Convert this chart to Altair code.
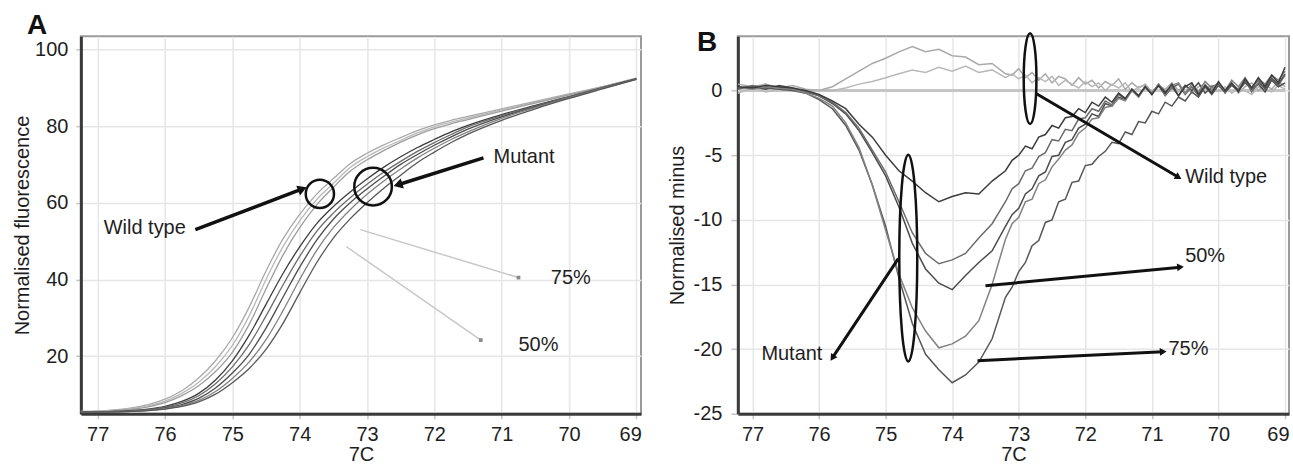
import math
import altair as alt
import pandas as pd

# ---------------- Panel A data (normalised fluorescence) ----------------
temps_a = [77.25, 77.0, 76.75, 76.5, 76.25, 76.0, 75.75, 75.5, 75.25, 75.0, 74.75, 74.5,
           74.25, 74.0, 73.75, 73.5, 73.25, 73.0, 72.75, 72.5, 72.25, 72.0, 71.75, 71.5,
           71.0, 70.5, 70.0, 69.5, 69.0]
wt_a1 = [5.6, 5.7, 6.0, 6.5, 7.4, 8.8, 11.0, 14.3, 18.8, 24.8, 32.8, 42.2, 50.5, 57.0, 62.2,
         66.3, 70.2, 72.9, 75.1, 77.0, 78.8, 80.3, 81.5, 82.5, 84.5, 86.4, 88.4, 90.3, 92.5]
wt_a2 = [5.6, 5.7, 5.9, 6.3, 7.1, 8.3, 10.3, 13.2, 17.3, 22.8, 30.5, 40.0, 48.5, 55.3, 60.8,
         65.0, 69.2, 72.0, 74.3, 76.3, 78.2, 79.8, 81.0, 82.1, 84.2, 86.2, 88.2, 90.2, 92.4]
wt_a3 = [5.5, 5.6, 5.8, 6.1, 6.8, 7.9, 9.7, 12.3, 16.0, 21.0, 28.3, 37.5, 46.3, 53.5, 59.4,
         64.0, 68.2, 71.2, 73.6, 75.8, 77.7, 79.3, 80.6, 81.7, 83.9, 86.0, 88.1, 90.2, 92.4]
mut_a1 = [5.5, 5.5, 5.6, 5.8, 6.2, 6.9, 8.2, 10.3, 13.8, 18.8, 25.5, 33.5, 41.5, 48.5, 54.5,
          59.0, 62.8, 66.2, 69.3, 72.0, 74.4, 76.5, 78.5, 80.2, 83.0, 85.4, 87.7, 90.0, 92.3]
mut_a2 = [5.5, 5.5, 5.6, 5.7, 6.1, 6.7, 7.8, 9.7, 12.8, 17.2, 23.0, 30.5, 38.5, 46.0, 52.5,
          57.3, 61.3, 64.8, 68.0, 70.8, 73.4, 75.7, 77.8, 79.8, 82.7, 85.2, 87.6, 90.0, 92.3]
mut_a3 = [5.4, 5.5, 5.5, 5.7, 6.0, 6.5, 7.4, 9.0, 11.7, 15.6, 20.5, 27.3, 35.3, 43.2, 50.2,
          55.7, 60.0, 63.6, 66.9, 70.0, 72.6, 75.0, 77.2, 79.2, 82.4, 85.0, 87.5, 89.9, 92.3]
mut_a4 = [5.4, 5.4, 5.5, 5.6, 5.9, 6.3, 7.1, 8.5, 10.8, 14.2, 18.5, 24.3, 31.8, 40.0, 47.5,
          53.5, 58.2, 62.2, 65.7, 68.8, 71.7, 74.2, 76.5, 78.5, 82.0, 84.8, 87.4, 89.8, 92.2]
mut_a5 = [5.4, 5.4, 5.5, 5.6, 5.8, 6.2, 6.9, 8.1, 10.1, 13.1, 16.8, 21.8, 28.5, 36.5, 44.3,
          50.8, 55.8, 60.0, 63.8, 67.2, 70.5, 73.2, 75.7, 77.9, 81.5, 84.5, 87.2, 89.7, 92.2]

# ---------------- Panel B data (difference plot) ----------------
temps_b = [77.22, 77.0, 76.8, 76.6, 76.4, 76.2, 76.0, 75.8, 75.6, 75.4, 75.2, 75.0, 74.8, 74.6,
           74.4, 74.2, 74.0, 73.8, 73.6, 73.4, 73.2,
           73.1, 73.0, 72.9, 72.8, 72.7, 72.6, 72.5, 72.4, 72.3, 72.2,
           72.1, 72.0, 71.9, 71.8, 71.7, 71.6, 71.5, 71.4, 71.3, 71.2,
           71.1, 71.0, 70.9, 70.8, 70.7, 70.6, 70.5, 70.4, 70.3, 70.2,
           70.1, 70.0, 69.9, 69.8, 69.7, 69.6, 69.5, 69.4, 69.3, 69.2,
           69.1, 69.0]
ref_b = [0.0, 0.0, 0.0, 0.0, 0.0, 0.0, 0.0, 0.0, 0.0, 0.0, 0.0, 0.0, 0.0, 0.0,
         0.0, 0.0, 0.0, 0.0, 0.0, 0.0, 0.0,
         0.0, 0.0, 0.0, 0.0, 0.0, 0.0, 0.0, 0.0, 0.0, 0.0,
         0.0, 0.0, 0.0, 0.0, 0.0, 0.0, 0.0, 0.0, 0.0, 0.0,
         0.0, 0.0, 0.0, 0.0, 0.0, 0.0, 0.0, 0.0, 0.0, 0.0,
         0.0, 0.0, 0.0, 0.0, 0.0, 0.0, 0.0, 0.0, 0.0, 0.0,
         0.0, 0.0]
wt_b_up = [0.5, 0.3, 0.5, 0.2, 0.4, 0.1, 0.0, 0.3, 0.9, 1.5, 2.1, 2.5, 3.0, 3.4,
           3.0, 3.2, 2.7, 2.6, 2.0, 2.1, 1.3,
           1.2, 1.7, 1.0, 1.4, 0.8, 1.3, 0.6, 1.1, 0.9, 0.4,
           1.0, 0.5, 0.8, 0.2, 0.7, 0.4, 0.9, 0.1, 0.6, 0.2,
           0.5, -0.1, 0.4, 0.1, 0.6, 0.0, 0.4, -0.2, 0.3, 0.5,
           -0.1, 0.4, 0.0, 0.5, -0.2, 0.3, 0.6, 0.0, 0.5, 0.1,
           0.7, 0.3]
wt_b_low = [-0.2, 0.2, -0.1, 0.1, 0.0, -0.1, 0.0, 0.0, 0.2, 0.5, 0.7, 1.0, 1.3, 1.6,
            1.4, 1.8, 1.5, 1.9, 1.4, 1.6, 1.0,
            1.3, 0.9, 1.2, 0.6, 1.0, 0.7, 1.1, 0.4, 0.8, 0.5,
            0.2, 0.7, 0.3, 0.6, 0.0, 0.5, 0.2, 0.6, -0.1, 0.3,
            0.4, -0.2, 0.3, 0.0, 0.4, -0.1, 0.3, 0.1, -0.3, 0.2,
            0.4, -0.1, 0.3, -0.2, 0.2, 0.0, -0.3, 0.3, 0.1, -0.1,
            0.4, 0.1]
mut_b1 = [0.3, 0.2, 0.4, 0.3, 0.2, 0.0, -0.3, -0.8, -1.4, -2.6, -3.6, -5.0, -6.2, -7.0,
          -7.9, -8.6, -8.2, -7.9, -8.0, -7.0, -6.2,
          -5.4, -5.0, -4.3, -4.5, -3.6, -3.4, -2.7, -2.9, -2.1, -2.0,
          -1.4, -1.7, -0.9, -1.2, -0.5, -0.9, -0.2, -0.6, 0.1, -0.4,
          0.3, -0.3, 0.4, -0.2, 0.5, -0.4, 0.3, 0.6, -0.3, 0.4,
          -0.2, 0.7, 0.0, 0.6, -0.1, 0.9, 0.2, 1.0, 0.3, 1.2,
          0.6, 1.8]
mut_b2 = [0.1, 0.4, 0.2, 0.3, 0.1, -0.1, -0.4, -0.9, -1.7, -2.9, -4.6, -6.3, -8.6, -11.0,
          -12.6, -13.4, -13.1, -12.6, -11.4, -10.3, -8.6,
          -7.6, -7.2, -6.2, -6.0, -5.1, -4.8, -3.8, -3.9, -3.0, -3.1,
          -2.2, -2.1, -1.4, -1.6, -0.8, -1.1, -0.3, -0.7, 0.1, -0.5,
          0.3, -0.2, 0.4, -0.4, 0.2, 0.5, -0.3, 0.3, -0.4, 0.4,
          0.0, 0.6, -0.2, 0.5, 0.1, 0.8, -0.1, 0.6, 0.2, 1.0,
          0.4, 1.2]
mut_b3 = [0.2, 0.3, 0.1, 0.4, 0.2, -0.1, -0.4, -1.0, -1.8, -3.1, -4.8, -6.6, -9.0, -11.8,
          -13.8, -14.9, -15.4, -14.3, -13.3, -12.4, -10.5,
          -9.6, -9.1, -8.0, -7.6, -6.6, -6.3, -5.1, -5.0, -4.0, -3.8,
          -2.9, -2.6, -1.8, -2.0, -1.0, -1.2, -0.5, -0.7, 0.1, -0.4,
          0.3, -0.3, 0.5, -0.1, 0.3, -0.4, 0.4, 0.0, 0.6, -0.2,
          0.3, 0.5, -0.1, 0.4, 0.0, 0.7, 0.1, 0.5, -0.1, 0.8,
          0.3, 0.6]
mut_b4 = [0.3, 0.1, 0.3, 0.2, 0.1, -0.2, -0.6, -1.2, -2.5, -4.4, -7.3, -10.8, -14.2, -16.8,
          -18.6, -19.9, -19.6, -19.0, -17.8, -15.0, -11.5,
          -10.3, -9.8, -8.6, -8.4, -7.2, -6.9, -5.9, -5.3, -4.6, -4.2,
          -3.3, -2.9, -2.2, -2.1, -1.3, -1.2, -0.6, -0.8, 0.0, -0.5,
          0.3, -0.2, 0.5, -0.3, 0.4, 0.6, -0.2, 0.5, -0.1, 0.7,
          0.2, 0.6, 0.0, 0.8, 0.3, 1.0, 0.2, 0.9, 0.5, 1.2,
          0.8, 1.5]
mut_b5 = [0.2, 0.3, 0.2, 0.1, 0.0, -0.2, -0.7, -1.4, -2.7, -4.6, -7.3, -10.5, -14.5, -18.0,
          -20.4, -21.6, -22.6, -22.0, -21.0, -19.2, -16.0,
          -15.2, -14.0, -13.3, -12.0, -11.6, -10.2, -10.0, -8.6, -8.4, -7.1,
          -7.0, -5.8, -5.7, -5.1, -4.7, -4.0, -4.1, -3.2, -3.4, -2.4,
          -2.5, -1.6, -1.8, -0.9, -1.2, -0.5, -0.8, -0.1, -0.5, 0.3,
          -0.3, 0.4, -0.1, 0.5, 0.0, 0.6, 0.2, 0.8, 0.1, 0.9,
          0.5, 1.3]

# ---------------- Annotation content ----------------
a_texts = ["Wild type", "Mutant", "75%", "50%"]
a_text_t = [76.91, 71.12, 70.27, 70.75]
a_text_v = [53.3, 72.0, 40.3, 22.9]
a_arrows = [(75.55, 53.0, 73.96, 63.6), (71.27, 71.7, 72.54, 64.7)]
a_thin = [(73.10, 53.0, 70.75, 40.5), (73.31, 48.6, 71.31, 24.2)]
a_circles = [(73.70, 62.3, 800), (72.91, 64.2, 1420)]

b_texts = ["Wild type", "50%", "75%"]
b_text_t = [70.50, 70.50, 70.75]
b_text_v = [-6.7, -12.8, -20.0]
b_mut_text = ("Mutant", 75.95, -20.4)
b_arrows = [(72.74, -0.23, 70.60, -6.71), (74.81, -13.0, 75.80, -20.68),
            (73.50, -15.1, 70.57, -13.66), (73.62, -20.9, 70.83, -20.2)]
b_ellipses = [(72.83, 0.93, 91, 0.14), (74.66, -12.96, 207, 0.087)]

# ---------------- Layout / style ----------------
A_W, A_H = 561, 378
B_W, B_H = 552, 378
A_XD = [68.93, 77.25]
A_YD = [5, 103.4]
B_XD = [68.94, 77.22]
B_YD = [-25, 4.2]
FONT = "Liberation Sans"
TXT = "#1e1e1e"


def xaxis(flush_off):
    return alt.Axis(values=[77, 76, 75, 74, 73, 72, 71, 70, 69], format="d", title="7C",
                    grid=True, gridColor="#e6e6e6", gridWidth=1.5,
                    domainColor="#3a3a3a", domainWidth=3, tickColor="#c4c4c4",
                    tickSize=5, tickWidth=1.5, labelFont=FONT, labelFontSize=20,
                    labelColor=TXT, labelPadding=6, labelFlush=8, labelFlushOffset=flush_off,
                    titleFont=FONT, titleFontSize=20,
                    titleFontWeight="normal", titleColor=TXT, titlePadding=0)


def yaxis(vals, title, tick, lpad, tpad):
    return alt.Axis(values=vals, title=title, labelExpr="'' + datum.value",
                    grid=True, gridColor="#e6e6e6", gridWidth=1.5,
                    domainColor="#3a3a3a", domainWidth=3, tickColor="#c4c4c4",
                    tickSize=tick, tickWidth=1.5, labelFont=FONT, labelFontSize=20,
                    labelColor=TXT, labelPadding=lpad, labelFlush=False,
                    titleFont=FONT, titleFontSize=20,
                    titleFontWeight="normal", titleColor=TXT, titlePadding=tpad)


def make_enc(xd, yd, xa, ya):
    xs = alt.Scale(domain=xd, reverse=True, nice=False, zero=False)
    ys = alt.Scale(domain=yd, nice=False, zero=False)

    def X(field):
        return alt.X(field, scale=xs, axis=xa)

    def Y(field):
        return alt.Y(field, scale=ys, axis=ya)
    return X, Y


def long_df(temps, series):
    rows = []
    for name, vals in series:
        for t, v in zip(temps, vals):
            rows.append({"T": t, "V": v, "s": name})
    return pd.DataFrame(rows)


def arrow_angles(arrows, xd, yd, w, h):
    ppd = w / (xd[1] - xd[0])
    ppu = h / (yd[1] - yd[0])
    out = []
    for t0, v0, t1, v1 in arrows:
        dx = (t0 - t1) * ppd
        dy = (v0 - v1) * ppu
        out.append(math.degrees(math.atan2(dx, -dy)) % 360)
    return out


def seg_df(arrows, angles=None):
    d = {"T": [a[0] for a in arrows], "V": [a[1] for a in arrows],
         "T2": [a[2] for a in arrows], "V2": [a[3] for a in arrows]}
    if angles is not None:
        d["ang"] = angles
    return pd.DataFrame(d)


# ================= Panel A =================
XA, YA = make_enc(A_XD, A_YD, xaxis(5),
                  yaxis([20, 40, 60, 80, 100], "Normalised fluorescence", 5, 8, 2))
a_series = [("wt1", wt_a1), ("wt2", wt_a2), ("wt3", wt_a3), ("m1", mut_a1), ("m2", mut_a2),
            ("m3", mut_a3), ("m4", mut_a4), ("m5", mut_a5)]
a_colors = ["#a9a9a9", "#b9b9b9", "#9d9d9d", "#3c3c3c", "#6c6c6c", "#4c4c4c", "#828282", "#575757"]
dfA = long_df(temps_a, a_series)
linesA = alt.Chart(dfA).mark_line(strokeWidth=1.3, interpolate="monotone").encode(
    x=XA("T:Q"), y=YA("V:Q"),
    color=alt.Color("s:N", scale=alt.Scale(domain=[s for s, _ in a_series], range=a_colors), legend=None))

thinA_df = seg_df(a_thin)
thinA = alt.Chart(thinA_df).mark_rule(color="#c8c8c8", strokeWidth=1.5).encode(
    x=XA("T:Q"), y=YA("V:Q"), x2="T2:Q", y2="V2:Q")
thinA_end = alt.Chart(thinA_df).mark_square(color="#8a8a8a", size=14, opacity=1).encode(
    x=XA("T2:Q"), y=YA("V2:Q"))

arrA_df = seg_df(a_arrows, arrow_angles(a_arrows, A_XD, A_YD, A_W, A_H))
arrA = alt.Chart(arrA_df).mark_rule(color="#111", strokeWidth=3.5).encode(
    x=XA("T:Q"), y=YA("V:Q"), x2="T2:Q", y2="V2:Q")
arrA_head = alt.Chart(arrA_df).mark_point(shape="triangle-up", filled=True, color="#111",
                                          size=110, opacity=1).encode(
    x=XA("T2:Q"), y=YA("V2:Q"), angle=alt.Angle("ang:Q", scale=None))

circA_df = pd.DataFrame({"T": [c[0] for c in a_circles], "V": [c[1] for c in a_circles],
                         "sz": [c[2] for c in a_circles]})
circA = alt.Chart(circA_df).mark_point(shape="circle", filled=False, color="#111",
                                       strokeWidth=2.5, opacity=1).encode(
    x=XA("T:Q"), y=YA("V:Q"), size=alt.Size("sz:Q", scale=None))

txtA_df = pd.DataFrame({"T": a_text_t, "V": a_text_v, "label": a_texts})
txtA = alt.Chart(txtA_df).mark_text(align="left", baseline="middle", font=FONT, fontSize=20,
                                    color=TXT).encode(x=XA("T:Q"), y=YA("V:Q"), text="label:N")

letterA = alt.Chart(pd.DataFrame({"L": ["A"]})).mark_text(
    align="left", baseline="alphabetic", font=FONT, fontSize=28, fontWeight="bold", color="#111"
).encode(x=alt.value(-54), y=alt.value(-2), text="L:N")

panelA = alt.layer(linesA, thinA, thinA_end, arrA, arrA_head, circA, txtA, letterA).properties(
    width=A_W, height=A_H)

# ================= Panel B =================
XB, YB = make_enc(B_XD, B_YD, xaxis(4),
                  yaxis([-25, -20, -15, -10, -5, 0], "Normalised minus", 7, 9, 6))
refB = alt.Chart(long_df(temps_b, [("ref", ref_b)])).mark_line(
    strokeWidth=3, color="#c6c6c6").encode(x=XB("T:Q"), y=YB("V:Q"))
b_series = [("wtu", wt_b_up), ("wtl", wt_b_low), ("m3", mut_b3), ("m2", mut_b2),
            ("m5", mut_b5), ("m4", mut_b4), ("m1", mut_b1)]
b_colors = ["#a4a4a4", "#b4b4b4", "#9a9a9a", "#858585", "#7a7a7a", "#525252", "#3a3a3a"]
linesB = alt.Chart(long_df(temps_b, b_series)).mark_line(strokeWidth=1.5).encode(
    x=XB("T:Q"), y=YB("V:Q"),
    color=alt.Color("s:N", scale=alt.Scale(domain=[s for s, _ in b_series], range=b_colors), legend=None))

arrB_df = seg_df(b_arrows, arrow_angles(b_arrows, B_XD, B_YD, B_W, B_H))
arrB = alt.Chart(arrB_df).mark_rule(color="#111", strokeWidth=3).encode(
    x=XB("T:Q"), y=YB("V:Q"), x2="T2:Q", y2="V2:Q")
arrB_head = alt.Chart(arrB_df).mark_point(shape="triangle-up", filled=True, color="#111",
                                          size=60, opacity=1).encode(
    x=XB("T2:Q"), y=YB("V2:Q"), angle=alt.Angle("ang:Q", scale=None))

ell_layers = []
for t, v, h, r in b_ellipses:
    path = "M0,-1A%.3f,1,0,1,1,0,1A%.3f,1,0,1,1,0,-1Z" % (r, r)
    ell_layers.append(
        alt.Chart(pd.DataFrame({"T": [t], "V": [v]})).mark_point(
            shape=path, filled=False, color="#111", strokeWidth=2.5, size=h * h, opacity=1
        ).encode(x=XB("T:Q"), y=YB("V:Q")))

txtB_df = pd.DataFrame({"T": b_text_t, "V": b_text_v, "label": b_texts})
txtB = alt.Chart(txtB_df).mark_text(align="left", baseline="middle", font=FONT, fontSize=20,
                                    color=TXT).encode(x=XB("T:Q"), y=YB("V:Q"), text="label:N")
txtB2 = alt.Chart(pd.DataFrame({"T": [b_mut_text[1]], "V": [b_mut_text[2]], "label": [b_mut_text[0]]})
                  ).mark_text(align="right", baseline="middle", font=FONT, fontSize=20,
                              color=TXT).encode(x=XB("T:Q"), y=YB("V:Q"), text="label:N")

letterB = alt.Chart(pd.DataFrame({"L": ["B"]})).mark_text(
    align="left", baseline="alphabetic", font=FONT, fontSize=28, fontWeight="bold", color="#111"
).encode(x=alt.value(-41), y=alt.value(15), text="L:N")

panelB = alt.layer(refB, linesB, arrB, arrB_head, *ell_layers, txtB, txtB2, letterB).properties(
    width=B_W, height=B_H)

chart = alt.hconcat(panelA, panelB, spacing=97, bounds="flush").properties(
    padding={"left": 11, "top": 11, "right": 1, "bottom": 1},
    background="white",
).configure_view(stroke="#9a9a9a", strokeWidth=2)

chart.save("out.html", embed_options={"renderer": "svg", "actions": False})
